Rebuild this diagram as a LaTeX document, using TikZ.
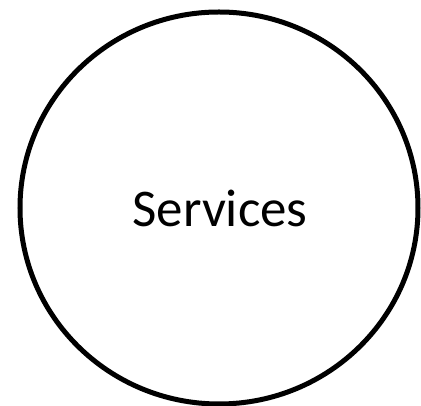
\documentclass[tikz,border=0pt]{standalone}
\usepackage{fontspec}
\setmainfont{Carlito}
\usetikzlibrary{shapes.geometric}
\begin{document}
\begin{tikzpicture}[x=1pt,y=1pt,
  ring/.style={draw=black,line width=5pt,ellipse,minimum width=398pt,minimum height=392pt,inner sep=0pt,outer sep=0pt},
  svctext/.style={font=\fontsize{53}{60}\selectfont,inner sep=0pt,anchor=base}]
\useasboundingbox (0,0) rectangle (421,406);
\node[ring] (c) at (219,198) {};
\node[svctext] (t) at (220,179) {Services};
\end{tikzpicture}
\end{document}
